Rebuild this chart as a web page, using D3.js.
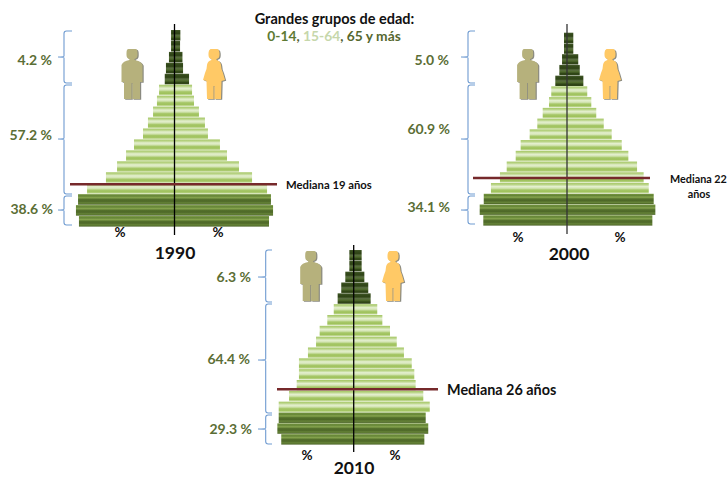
<!DOCTYPE html>
<html><head><meta charset="utf-8">
<script src="https://cdn.jsdelivr.net/npm/d3@7/dist/d3.min.js"></script>
<style>html,body{margin:0;padding:0;background:#fff}svg{display:block}text{font-family:Lato,"Open Sans",sans-serif;font-weight:700}</style>
</head><body><svg id="c" width="728" height="477"></svg>
<script>
const ageGroups = ["85+","80-84","75-79","70-74","65-69","60-64","55-59","50-54","45-49","40-44","35-39","30-34","25-29","20-24","15-19","10-14","5-9","0-4"];
const male1990   = [0.23,0.23,0.37,0.57,0.65,1.03,1.17,1.43,1.77,2.10,2.70,3.23,3.83,4.57,5.83,6.43,6.57,6.37];
const female1990 = [0.39,0.37,0.53,0.57,0.97,1.17,1.30,1.63,2.03,2.23,3.03,3.50,4.30,5.17,6.17,6.43,6.57,6.30];
const male2000   = [0.20,0.20,0.33,0.51,0.78,1.05,1.20,1.62,1.98,2.49,3.09,3.42,4.02,4.47,5.07,5.55,5.82,5.58];
const female2000 = [0.42,0.42,0.75,0.85,1.09,1.35,1.62,1.95,2.45,2.98,3.65,4.09,4.67,5.11,5.45,5.78,5.89,5.69];
const male2010   = [0.29,0.29,0.56,0.83,1.07,1.33,1.76,2.27,2.51,3.05,3.65,3.65,3.80,4.31,5.00,5.00,5.09,4.83];
const female2010 = [0.53,0.53,0.71,0.97,1.13,1.57,1.91,2.42,2.87,3.35,3.87,4.04,4.13,4.64,5.07,4.80,4.97,4.71];
const years = ["1990","2000","2010"];
const shares1990 = ["4.2 %","57.2 %","38.6 %"];
const shares2000 = ["5.0 %","60.9 %","34.1 %"];
const shares2010 = ["6.3 %","64.4 %","29.3 %"];
const medians = [19,22,26];
const title = "Grandes grupos de edad:";

const PX = 15;
const panels = [
 {year:years[0],male:male1990,female:female1990,shares:shares1990,median:medians[0],cx:174.5,top:30,bottom:227,axisTop:24,axisBottom:235,
  braceX:64,braceEnd:72,tip:58,tips:[57,139,210],ends:[[31,83],[85,194],[196,225]],labelX:[52,52,53],labelY:[61,136,210],
  medY:184.3,medX:[70,277],pct:[120,218],pctY:233.5,yearX:175,yearY:259,manX:132,womanX:214,iconY:49},
 {year:years[1],male:male2000,female:female2000,shares:shares2000,median:medians[1],cx:567,top:32.7,bottom:226,axisTop:24,axisBottom:234,
  braceX:468,braceEnd:475,tip:461,tips:[57,139,210],ends:[[31,83],[85,194],[196,224]],labelX:[449,450,450],labelY:[61,130,208],
  medY:178,medX:[473,650],pct:[518,620],pctY:238.5,yearX:569,yearY:260,manX:527.6,womanX:610,iconY:49},
 {year:years[2],male:male2010,female:female2010,shares:shares2010,median:medians[2],cx:353.7,top:250,bottom:445,axisTop:245,axisBottom:452,
  braceX:265.7,braceEnd:272,tip:258,tips:[277,360,429],ends:[[250,302],[304,413],[415,444]],labelX:[251,250,252],labelY:[278,360,430],
  medY:389.3,medX:[277,438],pct:[307,395],pctY:457,yearX:354,yearY:473.5,manX:310.7,womanX:393,iconY:251}
];
const svg = d3.select("#c");
const defs = svg.append("defs");
function grad(id, stops){
  const g = defs.append("linearGradient").attr("id",id).attr("x1",0).attr("x2",0).attr("y1",0).attr("y2",1);
  stops.forEach((c,i)=>g.append("stop").attr("offset",i/(stops.length-1)).attr("stop-color",c));
}
grad("gOld",["#44592a","#33491a","#2f4416","#5a6e42","#4f6a2c","#2f4416","#324718"]);
grad("gMid",["#a4c662","#bcd68c","#e4efcf","#d4e5b4","#a6c768","#9fc25c","#d2e3b0"]);
grad("gYoung",["#789840","#648436","#86a44e","#54702c","#4e6828","#668438","#4a6226"]);
const fillFor = i => i<5 ? "url(#gOld)" : i<15 ? "url(#gMid)" : "url(#gYoung)";

const manPath = "M-3.5,0 Q-5.5,0 -5.5,4 L-5.5,6 Q-5.5,9.5 -2.5,10 L-2.5,11 Q-9,12 -10.5,16 L-10.5,33 L-8,33 L-8,50 L-0.4,50 L-0.4,34 L0.4,34 L0.4,50 L8,50 L8,33 L10.5,33 L10.5,16 Q9,12 2.5,11 L2.5,10 Q5.5,9.5 5.5,6 L5.5,4 Q5.5,0 3.5,0 Z";
const womanPath = "M-3.5,0 Q-5.5,1 -5.5,4 L-5.5,6 Q-5.5,9.5 -2.5,10 L-2.5,11 Q-6.5,12 -7,16 L-7.5,20 L-9,24 L-11,31 L-7.5,32 L-7,50 L-0.4,50 L-0.4,37 L0.4,37 L0.4,50 L7,50 L7.5,32 L11,31 L9,24 L7.5,20 L7,16 Q6.5,12 2.5,11 L2.5,10 Q5.5,9.5 5.5,6 L5.5,4 Q5.5,1 3.5,0 Z";

function brace(spine,end,tip,y0,y1,ym){
  const r=2.5;
  return `M${end},${y0} L${spine+r},${y0} Q${spine},${y0} ${spine},${y0+r} L${spine},${ym-1} Q${spine},${ym} ${tip},${ym} Q${spine},${ym} ${spine},${ym+1} L${spine},${y1-r} Q${spine},${y1} ${spine+r},${y1} L${end},${y1}`;
}

panels.forEach(p=>{
  const g = svg.append("g");
  const y = d3.scaleBand().domain(ageGroups).range([p.top,p.bottom]);
  const xL = d3.scaleLinear().domain([0,1]).range([p.cx,p.cx-PX]);
  const xR = d3.scaleLinear().domain([0,1]).range([p.cx,p.cx+PX]);
  const rows = ageGroups.map((a,i)=>({a,i,m:p.male[i],f:p.female[i]}));
  g.selectAll("rect.m").data(rows).join("rect").attr("class","m")
    .attr("x",d=>xL(d.m)).attr("width",d=>p.cx-xL(d.m))
    .attr("y",d=>y(d.a)).attr("height",y.bandwidth()-0.4).attr("fill",d=>fillFor(d.i));
  g.selectAll("rect.f").data(rows).join("rect").attr("class","f")
    .attr("x",p.cx).attr("width",d=>xR(d.f)-p.cx)
    .attr("y",d=>y(d.a)).attr("height",y.bandwidth()-0.4).attr("fill",d=>fillFor(d.i));
  g.append("line").attr("x1",p.cx).attr("x2",p.cx).attr("y1",p.axisTop).attr("y2",p.axisBottom)
    .attr("stroke",p.year==="2000"?"#333":"#000").attr("stroke-width",1.3);
  g.append("line").attr("x1",p.medX[0]).attr("x2",p.medX[1]).attr("y1",p.medY).attr("y2",p.medY)
    .attr("stroke","#76292b").attr("stroke-width",2.6);
  p.ends.forEach((e,i)=>{
    g.append("path").attr("d",brace(p.braceX,p.braceEnd,p.tip,e[0],e[1],p.tips[i]))
      .attr("fill","none").attr("stroke","#6f9bd1").attr("stroke-width",1.1);
    g.append("text").attr("x",p.labelX[i]).attr("y",p.labelY[i]).attr("text-anchor","end")
      .attr("dominant-baseline","middle").attr("font-size",14).attr("fill","#5b6e35").text(p.shares[i]);
  });
  p.pct.forEach(x=>g.append("text").attr("x",x).attr("y",p.pctY).attr("text-anchor","middle")
      .attr("dominant-baseline","middle").attr("font-size",13.5).attr("fill","#111").text("%"));
  g.append("text").attr("x",p.yearX).attr("y",p.yearY).attr("text-anchor","middle")
      .attr("font-size",17.5).attr("fill","#111").text(p.year);
  [[p.manX,manPath,"#b6b17c"],[p.womanX,womanPath,"#ffc966"]].forEach(([x,d,c])=>{
    g.append("path").attr("d",d).attr("transform",`translate(${x+1.2},${p.iconY+0.8})`).attr("fill","#8a8a80");
    g.append("path").attr("d",d).attr("transform",`translate(${x},${p.iconY})`).attr("fill",c);
  });
});
// median labels
const m = svg.append("g").attr("fill","#111");
m.append("text").attr("x",286).attr("y",188.5).attr("font-size",11.3).text(`Mediana ${medians[0]} años`);
m.append("text").attr("x",670).attr("y",183).attr("font-size",10.8).text(`Mediana ${medians[1]}`);
m.append("text").attr("x",699).attr("y",198).attr("text-anchor","middle").attr("font-size",10.8).text("años");
m.append("text").attr("x",447).attr("y",395).attr("font-size",14.4).text(`Mediana ${medians[2]} años`);
// title
svg.append("text").attr("x",334.5).attr("y",23.5).attr("text-anchor","middle").attr("font-size",14.5).attr("fill","#111").text(title);
const t = svg.append("text").attr("x",334).attr("y",41).attr("text-anchor","middle").attr("font-size",13.8);
[["0-14","#5e7a33"],[", ","#4f6030"],["15-64","#c6d7ab"],[", ","#4f6030"],["65 y más","#56682f"]].forEach(([s,c])=>t.append("tspan").attr("fill",c).text(s));
</script></body></html>
